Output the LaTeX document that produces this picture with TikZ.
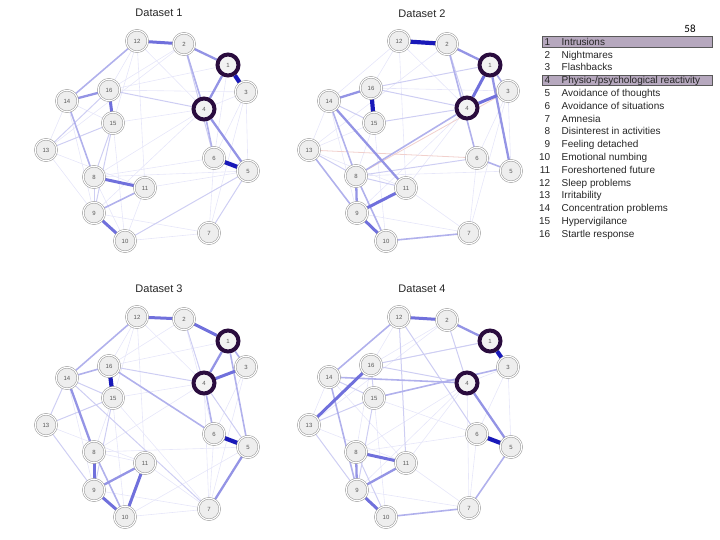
\documentclass[tikz,border=0pt]{standalone}
\usepackage{fontspec}
\setmainfont{Liberation Sans}
\newfontfamily\slidefont{Carlito}
\usetikzlibrary{backgrounds}
\definecolor{eb}{RGB}{50,50,205}
\definecolor{ebd}{RGB}{25,25,185}
\definecolor{hlc}{RGB}{42,12,62}
\definecolor{legfill}{RGB}{182,168,190}
\definecolor{negc}{RGB}{215,120,110}
\tikzset{
  nd/.style={circle, minimum size=21.5pt, inner sep=0pt, fill=gray!13, draw=gray!80,
    line width=0.55pt, double=white, double distance=1.1pt,
    font=\fontsize{6}{6}\selectfont, text=gray!70!black},
  hl/.style={circle, minimum size=21pt, inner sep=0pt, fill=gray!10, draw=hlc,
    line width=4pt, font=\fontsize{6}{6}\selectfont, text=gray!70!black},
  s1/.style={draw=eb!12, line width=0.6pt},
  s2/.style={draw=eb!24, line width=1pt},
  s3/.style={draw=eb!38, line width=1.6pt},
  s4/.style={draw=eb!52, line width=2.3pt},
  s5/.style={draw=eb!70, line width=3pt},
  s6/.style={draw=ebd, line width=4.2pt},
  neg/.style={draw=negc!35, line width=0.8pt},
  ttl/.style={font=\fontsize{11}{11}\selectfont, text=black!85},
  legn/.style={anchor=base east, font=\fontsize{10}{10}\selectfont, text=black!85, inner sep=0pt},
  legt/.style={anchor=base west, font=\fontsize{10}{10}\selectfont, text=black!85, inner sep=0pt},
  legbox/.style={fill=legfill, draw=black!65, line width=0.8pt},
  pgnum/.style={font=\slidefont\fontsize{11}{11}\selectfont, text=black}
}
\newcommand\netnodes[2]{\foreach \n/\x/\y in {#2}{\node[nd] (#1\n) at (\x,\y) {\n};}}
\newcommand\hlnodes[2]{\foreach \n/\x/\y in {#2}{\node[hl] (#1\n) at (\x,\y) {\n};}}
\newcommand\edges[3]{\foreach \s/\t in {#3}{\draw[#2] (#1\s) -- (#1\t);}}
\begin{document}
\begin{tikzpicture}[x=1pt,y=-1pt]
\useasboundingbox (0,0) rectangle (720,540);

% ---------- Titles ----------
\node[ttl] (t1) at (159,13) {Dataset 1};
\node[ttl] (t2) at (422,14) {Dataset 2};
\node[ttl] (t3) at (159,289) {Dataset 3};
\node[ttl] (t4) at (422,289) {Dataset 4};

% ---------- Nodes ----------
\netnodes{a}{12/137/41, 2/184/44, 3/246/92, 16/109/90, 14/67/101, 15/113/123, 13/46/150, 6/214/158, 5/248/171, 8/94/177, 11/145/188, 9/94/213, 10/125/241, 7/209/233}
\hlnodes{a}{1/228/65, 4/204/109}
\netnodes{b}{12/399/41, 2/447/44, 3/508/91, 16/371/88, 14/329/101, 15/374/123, 13/309/150, 6/477/158, 5/511/171, 8/356/176, 11/406/188, 9/357/213, 10/386/241, 7/469/233}
\hlnodes{b}{1/490/65, 4/467/108}
\netnodes{c}{12/137/317, 2/184/319, 3/246/367, 16/109/366, 14/67/378, 15/113/398, 13/46/425, 6/214/434, 5/248/447, 8/94/452, 11/145/463, 9/94/490, 10/125/517, 7/209/509}
\hlnodes{c}{1/228/341, 4/204/383}
\netnodes{d}{12/399/317, 2/447/320, 3/508/367, 16/371/365, 14/329/377, 15/374/398, 13/309/425, 6/477/434, 5/511/447, 8/356/452, 11/406/463, 9/357/490, 10/386/517, 7/469/508}
\hlnodes{d}{1/490/341, 4/467/383}

% ---------- Edges ----------
\begin{scope}[on background layer]
% Dataset 1
\edges{a}{s1}{13/9, 4/8, 12/11, 1/16, 3/6, 14/15, 9/7, 12/16, 2/16, 13/14, 3/5, 3/7, 4/9, 11/10, 8/10, 12/4, 1/6, 2/13, 6/7, 15/10, 14/9, 13/11, 8/6, 11/5, 16/3, 15/4, 12/15, 10/7, 3/4, 8/5}
\edges{a}{s2}{13/15, 16/4, 10/5, 8/9, 13/16, 9/15, 8/15, 5/7, 2/6}
\edges{a}{s3}{12/14, 14/8, 9/11, 4/6, 2/4}
\edges{a}{s4}{2/1, 1/4, 16/14, 4/5}
\edges{a}{s5}{12/2, 16/15, 8/11, 9/10}
\edges{a}{s6}{6/5, 1/3}
% Dataset 2
\edges{b}{s1}{12/11, 3/7, 6/7, 12/14, 12/16, 13/14, 13/15, 9/7, 11/7, 4/11, 15/10, 3/6, 4/9, 2/13, 12/4, 13/11, 3/5, 15/8, 16/3, 8/5, 14/9}
\edges{b}{neg}{13/6, 8/3}
\edges{b}{s2}{13/8, 8/11, 14/15, 16/4, 16/1, 15/4, 8/6, 2/4}
\edges{b}{s3}{2/6, 8/10, 8/4, 6/5, 10/7, 13/9, 14/8, 1/3}
\edges{b}{s4}{2/1, 1/5, 14/16, 14/11, 8/9}
\edges{b}{s5}{1/4, 4/3, 9/10, 9/11}
\edges{b}{s6}{12/2, 16/15}
% Dataset 3
\edges{c}{s1}{15/7, 12/11, 12/16, 2/16, 4/8, 3/6, 12/15, 15/8, 4/7, 3/7, 11/7, 10/7, 9/7, 6/7, 13/11, 8/11, 2/6, 15/4, 10/5, 1/16, 14/9, 12/4, 16/10, 8/5}
\edges{c}{s2}{14/13, 13/15, 4/5, 2/4, 14/7, 15/9, 13/9, 16/4, 14/15}
\edges{c}{s3}{12/14, 1/3, 1/5, 4/6, 16/6, 14/16, 8/10}
\edges{c}{s4}{1/4, 9/11, 5/7, 14/8}
\edges{c}{s5}{8/9, 9/10, 11/10, 12/2, 2/1, 4/3}
\edges{c}{s6}{6/5, 16/15}
% Dataset 4
\edges{d}{s1}{13/14, 2/16, 3/6, 4/8, 4/11, 6/7, 11/7, 9/7, 15/10, 2/13, 12/16, 4/9, 3/4, 14/11, 8/6, 4/7, 1/16, 3/5, 16/8, 13/11, 15/6}
\edges{d}{s2}{12/6, 13/15, 16/15, 14/15, 16/4, 2/4, 12/11, 13/9, 8/10, 15/9, 16/1}
\edges{d}{s3}{12/14, 14/4, 10/7, 5/7, 15/3, 14/9}
\edges{d}{s4}{2/1, 4/5, 8/9, 9/11}
\edges{d}{s5}{12/2, 16/13, 9/10, 8/11}
\edges{d}{s6}{1/3, 6/5}
\end{scope}

% ---------- Legend ----------
\node[pgnum] (pg) at (690,29) {58};
\draw[legbox] (542.5,36.4) rectangle (712.5,47);
\draw[legbox] (542.5,75) rectangle (712.5,85.6);
\foreach \i/\t [count=\k from 0] in {1/Intrusions, 2/Nightmares, 3/Flashbacks,
  4/{Physio-/psychological reactivity}, 5/Avoidance of thoughts,
  6/Avoidance of situations, 7/Amnesia, 8/Disinterest in activities,
  9/Feeling detached, 10/Emotional numbing, 11/Foreshortened future,
  12/Sleep problems, 13/Irritability, 14/Concentration problems,
  15/Hypervigilance, 16/Startle response}{
  \node[legn] (ln\i) at (550.5,45.3+\k*12.8) {\i};
  \node[legt] (lt\i) at (561.5,45.3+\k*12.8) {\t};
}
\end{tikzpicture}
\end{document}
